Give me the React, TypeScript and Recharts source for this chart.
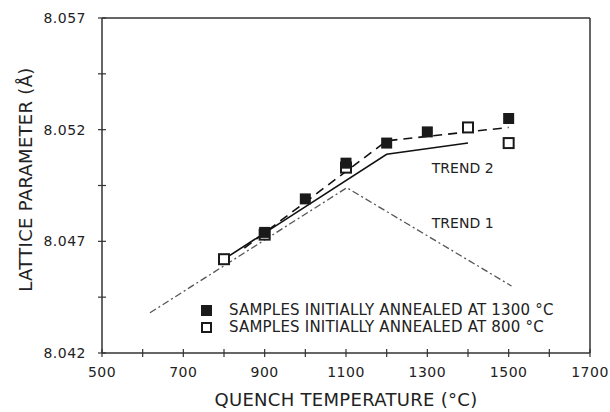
import React from 'react';
import {
  ComposedChart, XAxis, YAxis, Line, Scatter, ReferenceLine, ReferenceDot, Legend,
} from 'recharts';

// ---- data ----
const filledTemps = [900, 1000, 1100, 1200, 1300, 1500];
const filledValues = [8.0474, 8.0489, 8.0505, 8.0514, 8.0519, 8.0525];

const openTemps = [800, 900, 1100, 1400, 1500];
const openValues = [8.0462, 8.0473, 8.0503, 8.0521, 8.0514];

const fitTemps = [850, 1200, 1500];
const fitValues = [8.0467, 8.0515, 8.0521];

const trend2Temps = [800, 1200, 1400];
const trend2Values = [8.0462, 8.0509, 8.0514];

const trend1Temps = [618, 1102, 1507];
const trend1Values = [8.0438, 8.0494, 8.0450];

const xTicks = [500, 600, 700, 800, 900, 1000, 1100, 1200, 1300, 1400, 1500, 1600, 1700];
const xLabeled = [500, 700, 900, 1100, 1300, 1500, 1700];
const yTicks = [8.042, 8.0445, 8.047, 8.0495, 8.052, 8.0545, 8.057];
const yLabeled = [8.042, 8.047, 8.052, 8.057];

const xTitle = 'QUENCH TEMPERATURE (°C)';
const yTitle = 'LATTICE PARAMETER (Å)';
const legendLabels = ['SAMPLES INITIALLY ANNEALED AT 1300 °C', 'SAMPLES INITIALLY ANNEALED AT 800 °C'];
const trendLabels = [
  { name: 'TREND 2', x: 1311, y: 8.0503 },
  { name: 'TREND 1', x: 1311, y: 8.0478 },
];

const zip = (xs: number[], ys: number[]) => xs.map((x, i) => ({ x, y: ys[i] }));
const filledData = zip(filledTemps, filledValues);
const openData = zip(openTemps, openValues);
const fitData = zip(fitTemps, fitValues);
const trend2Data = zip(trend2Temps, trend2Values);
const trend1Data = zip(trend1Temps, trend1Values);

const FONT = '"DejaVu Sans", sans-serif';
const INK = '#222';

const XTick = (props: any) => {
  const { x, y, payload } = props;
  const v = payload.value;
  return (
    <g>
      <line x1={x} x2={x} y1={y - 4} y2={y + 4} stroke="#333" strokeWidth={1.2} />
      {xLabeled.includes(v) && (
        <text x={x} y={y + 19} textAnchor="middle" dominantBaseline="central"
          fontFamily={FONT} fontSize={14} fill={INK} letterSpacing={0.5}>{v}</text>
      )}
    </g>
  );
};

const YTick = (props: any) => {
  const { x, y, payload } = props;
  const v = payload.value;
  const lab = yLabeled.some((t) => Math.abs(t - v) < 1e-6);
  return (
    <g>
      <line x1={x - 4} x2={x + 4} y1={y} y2={y} stroke="#333" strokeWidth={1.2} />
      {lab && (
        <text x={x - 16} y={y} textAnchor="end" dominantBaseline="central"
          fontFamily={FONT} fontSize={14} fill={INK} letterSpacing={0.5}>{v.toFixed(3)}</text>
      )}
    </g>
  );
};

const FilledSquare = (props: any) => {
  const { cx, cy } = props;
  return <rect x={cx - 5.5} y={cy - 5.5} width={11} height={11} fill="#1a1a1a" />;
};
const OpenSquare = (props: any) => {
  const { cx, cy } = props;
  return <rect x={cx - 5} y={cy - 5} width={10} height={10} fill="#fff" stroke="#1a1a1a" strokeWidth={2} />;
};

const LegendContent = () => (
  <div style={{ fontFamily: FONT, fontSize: 15, color: INK, lineHeight: '17px', letterSpacing: '0.2px' }}>
    {legendLabels.map((t, i) => (
      <div key={t} style={{ display: 'flex', alignItems: 'center', height: 17, whiteSpace: 'nowrap' }}>
        <svg width={28} height={17} style={{ display: 'block' }}>
          {i === 0
            ? <rect x={0} y={3} width={11} height={11} fill="#1a1a1a" />
            : <rect x={1} y={4} width={9} height={9} fill="#fff" stroke="#1a1a1a" strokeWidth={2} />}
        </svg>
        <span>{t}</span>
      </div>
    ))}
  </div>
);

export default function App() {
  return (
    <div style={{ position: 'absolute', left: 0, top: 0, width: 610, height: 412, background: '#fff' }}>
      <ComposedChart width={610} height={412} margin={{ top: 18, right: 20, bottom: 0, left: 0 }}>
        <XAxis
          type="number" dataKey="x" domain={[500, 1700]} ticks={xTicks} interval={0}
          height={59} tickSize={0} tickMargin={0} tickLine={false}
          axisLine={{ stroke: '#333', strokeWidth: 1.5 }} tick={<XTick />} allowDataOverflow
          label={{
            content: (p: any) => {
              const vb = p.viewBox;
              return (
                <text x={vb.x + vb.width / 2} y={399} textAnchor="middle" dominantBaseline="central"
                  fontFamily={FONT} fontSize={18} fill={INK} letterSpacing={0.3}>{xTitle}</text>
              );
            },
          }}
        />
        <YAxis
          type="number" dataKey="y" domain={[8.042, 8.057]} ticks={yTicks} interval={0}
          width={102} tickSize={0} tickMargin={0} tickLine={false}
          axisLine={{ stroke: '#333', strokeWidth: 1.5 }} tick={<YTick />} allowDataOverflow
          label={{
            content: (p: any) => {
              const vb = p.viewBox;
              const cy = vb.y + vb.height / 2 - 6;
              return (
                <text x={25} y={cy} textAnchor="middle" dominantBaseline="central"
                  transform={`rotate(-90, 25, ${cy})`}
                  fontFamily={FONT} fontSize={18} fill={INK} letterSpacing={0.3}>{yTitle}</text>
              );
            },
          }}
        />
        <ReferenceLine y={8.057} stroke="#333" strokeWidth={1.5} />
        <ReferenceLine x={1700} stroke="#333" strokeWidth={1.5} />

        <Line data={trend1Data} dataKey="y" type="linear" stroke="#555" strokeWidth={1.3}
          strokeDasharray="7 3 2 3" dot={false} isAnimationActive={false} legendType="none" />
        <Line data={trend2Data} dataKey="y" type="linear" stroke="#111" strokeWidth={1.6}
          dot={false} isAnimationActive={false} legendType="none" />
        <Line data={fitData} dataKey="y" type="linear" stroke="#111" strokeWidth={1.6}
          strokeDasharray="9 6" dot={false} isAnimationActive={false} legendType="none" />

        <Scatter name={legendLabels[1]} data={openData} dataKey="y" shape={<OpenSquare />} isAnimationActive={false} />
        <Scatter name={legendLabels[0]} data={filledData} dataKey="y" shape={<FilledSquare />} isAnimationActive={false} />

        {trendLabels.map((t) => (
          <ReferenceDot key={t.name} x={t.x} y={t.y} r={0}
            shape={(p: any) => (
              <text x={p.cx} y={p.cy} dominantBaseline="central" fontFamily={FONT}
                fontSize={14} fill={INK}>{t.name}</text>
            )}
          />
        ))}

        <Legend layout="vertical" align="center" verticalAlign="middle"
          wrapperStyle={{ left: 201, top: 302, width: 400, height: 34 }}
          content={<LegendContent />} />
      </ComposedChart>
    </div>
  );
}
